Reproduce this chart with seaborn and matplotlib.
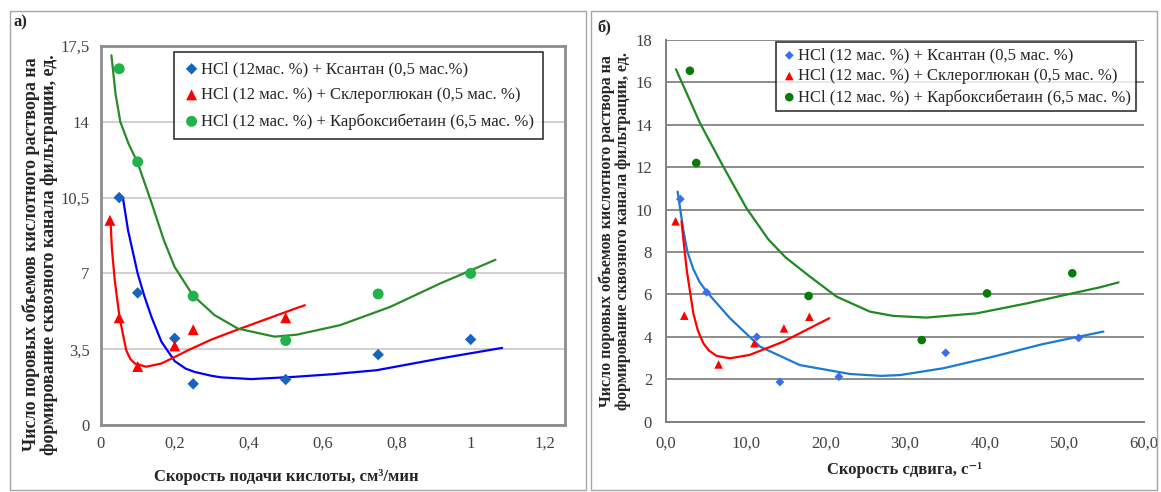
import matplotlib
matplotlib.use('Agg')
import matplotlib.pyplot as plt
import seaborn as sns
from matplotlib.patches import Rectangle

sns.set_style('white')
plt.rcParams['font.family'] = ['Liberation Serif', 'DejaVu Serif']

# ---- данные: панель а) ----
a_xan_x = [0.05, 0.1, 0.2, 0.25, 0.5, 0.75, 1.0]
a_xan_y = [10.5, 6.1, 4.0, 1.9, 2.1, 3.25, 3.95]
a_scl_x = [0.025, 0.05, 0.1, 0.2, 0.25, 0.5]
a_scl_y = [9.45, 4.95, 2.7, 3.65, 4.4, 4.95]
a_cb_x = [0.05, 0.1, 0.25, 0.5, 0.75, 1.0]
a_cb_y = [16.45, 12.15, 5.95, 3.9, 6.05, 7.0]

# линии тренда
a_xan_tx = [0.06, 0.074, 0.1, 0.118, 0.137, 0.164, 0.2, 0.23, 0.254, 0.3, 0.326, 0.407, 0.52, 0.63, 0.746, 0.917, 1.085]
a_xan_ty = [10.5, 8.98, 6.99, 5.95, 5.0, 3.85, 2.95, 2.6, 2.45, 2.27, 2.2, 2.12, 2.22, 2.35, 2.53, 3.07, 3.56]
a_scl_tx = [0.027, 0.03, 0.038, 0.051, 0.069, 0.08, 0.092, 0.123, 0.164, 0.2, 0.236, 0.3, 0.371, 0.533, 0.552]
a_scl_ty = [9.3, 8.2, 6.68, 4.96, 3.45, 3.05, 2.84, 2.69, 2.84, 3.14, 3.45, 3.95, 4.41, 5.42, 5.53]
a_cb_tx = [0.029, 0.04, 0.053, 0.075, 0.1, 0.136, 0.171, 0.2, 0.249, 0.308, 0.371, 0.47, 0.53, 0.647, 0.782, 0.917, 1.067]
a_cb_ty = [17.07, 15.3, 14.0, 13.0, 12.1, 10.33, 8.52, 7.29, 5.99, 5.07, 4.45, 4.08, 4.17, 4.61, 5.45, 6.53, 7.63]

a_xticks = [0, 0.2, 0.4, 0.6, 0.8, 1.0, 1.2]
a_xlabels = ['0', '0,2', '0,4', '0,6', '0,8', '1', '1,2']
a_yticks = [0, 3.5, 7, 10.5, 14, 17.5]
a_ylabels = ['0', '3,5', '7', '10,5', '14', '17,5']
a_names = ['HCl (12мас. %) + Ксантан (0,5 мас.%)',
           'HCl (12 мас. %) + Склероглюкан (0,5 мас. %)',
           'HCl (12 мас. %) + Карбоксибетаин (6,5 мас. %)']

# ---- данные: панель б) ----
b_xan_x = [1.8, 5.1, 11.4, 14.3, 21.7, 35.1, 51.8]
b_xan_y = [10.5, 6.1, 4.0, 1.87, 2.12, 3.25, 3.95]
b_scl_x = [1.2, 2.3, 6.6, 11.1, 14.8, 18.0]
b_scl_y = [9.45, 5.0, 2.7, 3.7, 4.4, 4.95]
b_cb_x = [3.0, 3.8, 17.9, 32.1, 40.3, 51.0]
b_cb_y = [16.55, 12.2, 5.93, 3.85, 6.05, 7.0]

b_xan_tx = [1.46, 2.17, 2.7, 3.43, 4.2, 5.1, 8.03, 11.8, 16.8, 23.1, 27.0, 29.4, 34.8, 41.1, 47.3, 54.9]
b_xan_ty = [10.85, 9.04, 8.0, 7.2, 6.6, 6.13, 4.88, 3.54, 2.67, 2.25, 2.16, 2.2, 2.52, 3.07, 3.66, 4.25]
b_scl_tx = [1.95, 2.1, 2.6, 3.43, 4.0, 4.68, 5.4, 6.36, 8.03, 10.5, 14.7, 20.5]
b_scl_ty = [9.45, 8.9, 7.16, 5.11, 4.3, 3.7, 3.35, 3.1, 2.99, 3.15, 3.77, 4.88]
b_cb_tx = [1.25, 4.27, 7.19, 10.1, 12.84, 15.0, 18.07, 21.4, 25.6, 28.5, 32.7, 39.0, 45.3, 51.1, 54.5, 56.8]
b_cb_ty = [16.62, 14.08, 12.03, 10.07, 8.6, 7.75, 6.84, 5.9, 5.19, 4.99, 4.91, 5.11, 5.58, 6.06, 6.34, 6.57]

b_xticks = [0, 10, 20, 30, 40, 50, 60]
b_xlabels = ['0,0', '10,0', '20,0', '30,0', '40,0', '50,0', '60,0']
b_yticks = [0, 2, 4, 6, 8, 10, 12, 14, 16, 18]
b_ylabels = ['0', '2', '4', '6', '8', '10', '12', '14', '16', '18']
b_names = ['HCl (12 мас. %) + Ксантан (0,5 мас. %)',
           'HCl (12 мас. %) + Склероглюкан (0,5 мас. %)',
           'HCl (12 мас. %) + Карбоксибетаин (6,5 мас. %)']

ylab = 'Число поровых объемов кислотного раствора на\nформирование сквозного канала фильтрации, ед.'

W, H = 1161, 492


def px_rect(x0, y0, x1, y1):
    return [x0 / W, 1 - y1 / H, (x1 - x0) / W, (y1 - y0) / H]


def draw_series(ax, pts, trends, names, markers, mcolors, lcolors, sizes, lw):
    for (x, y), (tx, ty), name, m, mc, lc, s in zip(pts, trends, names, markers, mcolors, lcolors, sizes):
        sns.lineplot(x=tx, y=ty, color=lc, lw=lw, sort=False, estimator=None,
                     legend=False, ax=ax, zorder=2)
        sns.scatterplot(x=x, y=y, marker=m, color=mc, s=s, edgecolor='none',
                        label=name, ax=ax, zorder=3)


fig = plt.figure(figsize=(W / 100, H / 100), dpi=100)

# рамки областей диаграмм
for x0, x1 in [(10, 586), (591, 1157)]:
    fig.add_artist(Rectangle((x0 / W, 1 - 490 / H), (x1 - x0) / W, (490 - 11) / H,
                             transform=fig.transFigure, fill=False,
                             edgecolor='#a6a6a6', lw=1))

# ---------- а) ----------
ax1 = fig.add_axes(px_rect(100.7, 46, 565, 425))
draw_series(ax1,
            [(a_xan_x, a_xan_y), (a_scl_x, a_scl_y), (a_cb_x, a_cb_y)],
            [(a_xan_tx, a_xan_ty), (a_scl_tx, a_scl_ty), (a_cb_tx, a_cb_ty)],
            a_names, ['D', '^', 'o'],
            ['#1565c0', '#ff0000', '#22b14c'],
            ['#0000ff', '#ff0000', '#2a8a2a'],
            [34, 62, 62], 1.6)
ax1.set_xlim(0, 1.255)
ax1.set_ylim(0, 17.5)
ax1.set_xticks(a_xticks)
ax1.set_xticklabels(a_xlabels)
ax1.set_yticks(a_yticks)
ax1.set_yticklabels(a_ylabels)
ax1.yaxis.grid(True, color='#c8c8c8', lw=1.2)
ax1.set_axisbelow(True)
for sp in ax1.spines.values():
    sp.set_color('#8c8c8c')
    sp.set_linewidth(2)
ax1.tick_params(axis='both', direction='out', length=5, width=1, color='#8c8c8c',
                labelsize=12, labelcolor='#404040', pad=3)
ax1.set_xlabel('Скорость подачи кислоты, см³/мин', fontsize=12, fontweight='bold')
ax1.xaxis.set_label_coords(0.4, -0.115)
ax1.set_ylabel(ylab, fontsize=13, fontweight='bold', linespacing=1.0)
ax1.yaxis.set_label_coords(-0.092, 0.45)
leg1 = ax1.legend(loc='upper left', bbox_to_anchor=(0.158, 0.984), borderaxespad=0,
                  fontsize=12, frameon=True, fancybox=False, edgecolor='black',
                  handletextpad=0.05, handlelength=1.0, labelspacing=0.6,
                  borderpad=0.55)
leg1.get_frame().set_linewidth(1.2)
fig.text(13 / W, 1 - 22 / H, 'а)', fontsize=12, fontweight='bold', va='center', ha='left')

# ---------- б) ----------
ax2 = fig.add_axes(px_rect(666, 40, 1144, 421.7))
draw_series(ax2,
            [(b_xan_x, b_xan_y), (b_scl_x, b_scl_y), (b_cb_x, b_cb_y)],
            [(b_xan_tx, b_xan_ty), (b_scl_tx, b_scl_ty), (b_cb_tx, b_cb_ty)],
            b_names, ['D', '^', 'o'],
            ['#3a6df0', '#ff0000', '#087a08'],
            ['#1c7ad0', '#ff0000', '#1f8a1f'],
            [20, 38, 38], 1.6)
ax2.set_xlim(0, 60)
ax2.set_ylim(0, 18)
ax2.set_xticks(b_xticks)
ax2.set_xticklabels(b_xlabels)
ax2.set_yticks(b_yticks)
ax2.set_yticklabels(b_ylabels)
ax2.yaxis.grid(True, color='#8c8c8c', lw=1.4)
ax2.set_axisbelow(True)
ax2.spines['top'].set_visible(False)
ax2.spines['right'].set_visible(False)
for k in ['left', 'bottom']:
    ax2.spines[k].set_color('#7f7f7f')
    ax2.spines[k].set_linewidth(1.4)
ax2.tick_params(axis='both', direction='out', length=5, width=1.2, color='#7f7f7f',
                labelsize=12, labelcolor='#404040', pad=5)
ax2.set_xlabel('Скорость сдвига, с⁻¹', fontsize=12, fontweight='bold')
ax2.xaxis.set_label_coords(0.5, -0.105)
ax2.set_ylabel(ylab, fontsize=11.5, fontweight='bold', linespacing=1.0)
ax2.yaxis.set_label_coords(-0.073, 0.5)
leg2 = ax2.legend(loc='upper left', bbox_to_anchor=(0.23, 0.995), borderaxespad=0,
                  fontsize=12, frameon=True, fancybox=False, edgecolor='black',
                  handletextpad=0.05, handlelength=0.9, labelspacing=0.28,
                  borderpad=0.35)
leg2.get_frame().set_linewidth(1.2)
fig.text(597 / W, 1 - 28 / H, 'б)', fontsize=12, fontweight='bold', va='center', ha='left')

fig.savefig('out.png', dpi=100)
